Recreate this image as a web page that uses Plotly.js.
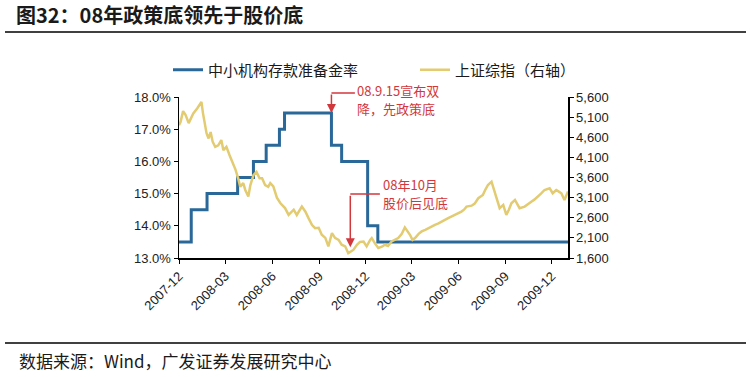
<!DOCTYPE html>
<html>
<head>
<meta charset="utf-8">
<script src="https://cdn.plot.ly/plotly-3.0.1.min.js"></script>
<style>html,body{margin:0;padding:0;background:#fff;}#chart{width:752px;height:377px;}</style>
</head>
<body>
<div id="chart"></div>
<script>
// ---- data ----
const rrrDates = ['2007-12-01','2007-12-25','2008-01-25','2008-03-25','2008-04-25','2008-05-20','2008-06-15','2008-06-25','2008-09-25','2008-10-15','2008-12-05','2008-12-25','2010-01-02'];
const rrrValues = [13.5,14.5,15.0,15.5,16.0,16.5,17.0,17.5,16.5,16.0,14.0,13.5,13.5];

const shDates = ['2007-12-01','2007-12-04','2007-12-09','2007-12-14','2007-12-20','2007-12-25','2007-12-29','2008-01-06','2008-01-10','2008-01-14','2008-01-17','2008-01-20','2008-01-24','2008-01-28','2008-02-01','2008-02-05','2008-02-10','2008-02-16','2008-02-22','2008-02-26','2008-03-03','2008-03-09','2008-03-15','2008-03-21','2008-03-26','2008-03-30','2008-04-05','2008-04-09','2008-04-15','2008-04-19','2008-04-25','2008-05-01','2008-05-07','2008-05-12','2008-05-18','2008-05-24','2008-05-28','2008-06-03','2008-06-10','2008-06-17','2008-06-26','2008-07-03','2008-07-13','2008-07-19','2008-07-29','2008-08-05','2008-08-11','2008-08-18','2008-08-24','2008-08-31','2008-09-06','2008-09-13','2008-09-19','2008-09-26','2008-10-02','2008-10-09','2008-10-15','2008-10-22','2008-10-28','2008-11-01','2008-11-07','2008-11-14','2008-11-20','2008-11-27','2008-12-03','2008-12-10','2008-12-13','2008-12-20','2008-12-26','2009-01-02','2009-01-08','2009-01-14','2009-01-21','2009-02-03','2009-02-10','2009-02-16','2009-02-26','2009-03-03','2009-03-08','2009-03-15','2009-03-21','2009-03-28','2009-04-03','2009-04-10','2009-04-16','2009-04-23','2009-04-29','2009-05-06','2009-05-12','2009-05-18','2009-05-25','2009-06-01','2009-06-07','2009-06-12','2009-06-17','2009-06-27','2009-07-03','2009-07-10','2009-07-19','2009-07-24','2009-07-29','2009-08-05','2009-08-11','2009-08-16','2009-08-21','2009-08-28','2009-09-03','2009-09-08','2009-09-13','2009-09-20','2009-09-29','2009-10-09','2009-10-15','2009-10-22','2009-10-28','2009-11-04','2009-11-10','2009-11-17','2009-11-27','2009-12-03','2009-12-10','2009-12-15','2009-12-20','2009-12-26','2010-01-02'];
const shValues = [4900,4980,5250,5150,4950,5080,5190,5320,5400,5480,5200,4980,4700,4570,4730,4490,4360,4400,4530,4280,4360,4160,3990,3790,3580,3370,3460,3290,3130,3410,3660,3740,3580,3580,3410,3370,3460,3380,3100,2960,2840,2670,2800,2670,2880,2750,2590,2420,2340,2350,2180,2100,1890,2220,2100,2050,1930,1890,1720,1760,1800,1930,2000,2010,1890,2050,2095,1950,1850,1880,1930,1900,2010,2095,2200,2360,2177,2050,2095,2200,2260,2300,2340,2400,2424,2460,2506,2550,2590,2630,2672,2700,2753,2800,2877,2900,2950,3085,3167,3300,3414,3496,3250,3050,2838,2919,2672,2800,2961,3043,2838,2877,2940,3000,3050,3125,3200,3290,3332,3209,3290,3250,3209,3043,3250];

const xTickVals = ['2007-12-01','2008-03-01','2008-06-01','2008-09-01','2008-12-01','2009-03-01','2009-06-01','2009-09-01','2009-12-01'];
const xTickText = ['2007-12','2008-03','2008-06','2008-09','2008-12','2009-03','2009-06','2009-09','2009-12'];
const yLeftTicks = [13,14,15,16,17,18];
const yRightTicks = [1600,2100,2600,3100,3600,4100,4600,5100,5600];

const seriesNames = ['中小机构存款准备金率','上证综指（右轴）'];
const titleText = '图32：08年政策底领先于股价底';
const sourceText = '数据来源：Wind，广发证券发展研究中心';
const note1Lines = ['08.9.15宣布双','降，先政策底'];
const note2Lines = ['08年10月','股价后见底'];

// ---- layout helpers (pixels -> paper) ----
const W = 752, H = 377;
const M = {l:179, r:184, t:97, b:119};
const PW = W - M.l - M.r, PH = H - M.t - M.b;
const px = x => (x - M.l) / PW;
const py = y => (H - M.b - y) / PH;

const cjk = '"Noto Sans CJK SC", "Noto Sans", sans-serif';
const arial = '"Liberation Sans", Arial, sans-serif';
const red = '#D2373C';

const traces = [
  {x: rrrDates, y: rrrValues, name: seriesNames[0], type:'scatter', mode:'lines',
   line:{color:'#2A6899', width:3, shape:'hv'}, yaxis:'y'},
  {x: shDates, y: shValues, name: seriesNames[1], type:'scatter', mode:'lines',
   line:{color:'#E3CB72', width:2.5}, yaxis:'y2'}
];

function noteLine(text, xPix, yPix) {
  return {x:px(xPix), y:py(yPix), xref:'paper', yref:'paper', text:text, showarrow:false,
          xanchor:'left', yanchor:'middle', align:'left', font:{family:cjk, size:13, color:red}};
}

const layout = {
  width: W, height: H,
  margin: M,
  paper_bgcolor:'#fff', plot_bgcolor:'#fff',
  showlegend: true,
  title: {text: titleText, font:{family:cjk, size:20, color:'#1a1a1a', weight:'bold'},
          xref:'container', yref:'container', x: 16/W, xanchor:'left', y: 1-16/H, yanchor:'middle'},
  legend: {orientation:'h', x: px(168), xanchor:'left', y: py(70), yanchor:'middle',
           font:{family:cjk, size:15, color:'#1a1a1a'}, entrywidth: 202, entrywidthmode:'pixels',
           bgcolor:'rgba(0,0,0,0)'},
  xaxis: {type:'date', range:['2007-12-01','2010-01-02'], tickvals:xTickVals, ticktext:xTickText,
          tickangle:-45, ticks:'outside', ticklen:4, tickcolor:'#000', showline:true, linecolor:'#000', linewidth:1.5,
          showgrid:false, zeroline:false, tickfont:{family:arial, size:13, color:'#222'}},
  yaxis: {range:[13,18], tickvals:yLeftTicks, ticktext:yLeftTicks.map(v=>v.toFixed(1)+'%'),
          ticks:'outside', ticklen:4, tickcolor:'#000', showline:true, linecolor:'#000', linewidth:1.5,
          showgrid:false, zeroline:false, tickfont:{family:arial, size:13, color:'#222'}},
  yaxis2: {range:[1600,5600], tickvals:yRightTicks, ticktext:yRightTicks.map(v=>v.toLocaleString('en-US')),
           overlaying:'y', side:'right', ticks:'outside', ticklen:4, tickcolor:'#000', showline:true,
           linecolor:'#000', linewidth:1.5, showgrid:false, zeroline:false,
           tickfont:{family:arial, size:13, color:'#222'}},
  shapes: [
    {type:'line', xref:'paper', yref:'paper', x0:px(5), x1:px(746), y0:py(32), y1:py(32), line:{color:'#000', width:1.5}},
    {type:'line', xref:'paper', yref:'paper', x0:px(5), x1:px(746), y0:py(343), y1:py(343), line:{color:'#000', width:1.5}},
    {type:'line', xref:'x', yref:'paper', x0:'2008-09-25', x1:'2008-11-10', y0:py(93), y1:py(93), line:{color:red, width:1.5}},
    {type:'line', xref:'x', yref:'paper', x0:'2008-11-01', x1:'2008-12-29', y0:py(194), y1:py(194), line:{color:red, width:1.5}}
  ],
  annotations: [
    {x:'2008-09-25', y:17.5, xref:'x', yref:'y', text:'', showarrow:true, arrowhead:2, arrowsize:1.2,
     arrowwidth:1.5, arrowcolor:red, ax:0, ay:-20},
    {x:'2008-11-01', y:1870, xref:'x', yref:'y2', text:'', showarrow:true, arrowhead:2, arrowsize:1.2,
     arrowwidth:1.5, arrowcolor:red, ax:0, ay:-(py(194)-py(247))*PH},
    noteLine(note1Lines[0], 355, 90),
    noteLine(note1Lines[1], 355, 108),
    noteLine(note2Lines[0], 381, 184),
    noteLine(note2Lines[1], 381, 202),
    {x:px(17), y:py(360), xref:'paper', yref:'paper', text:sourceText, showarrow:false, xanchor:'left', yanchor:'middle',
     font:{family:cjk, size:17, color:'#1a1a1a'}}
  ]
};

Plotly.newPlot('chart', traces, layout, {displayModeBar:false, staticPlot:true});
</script>
</body>
</html>
